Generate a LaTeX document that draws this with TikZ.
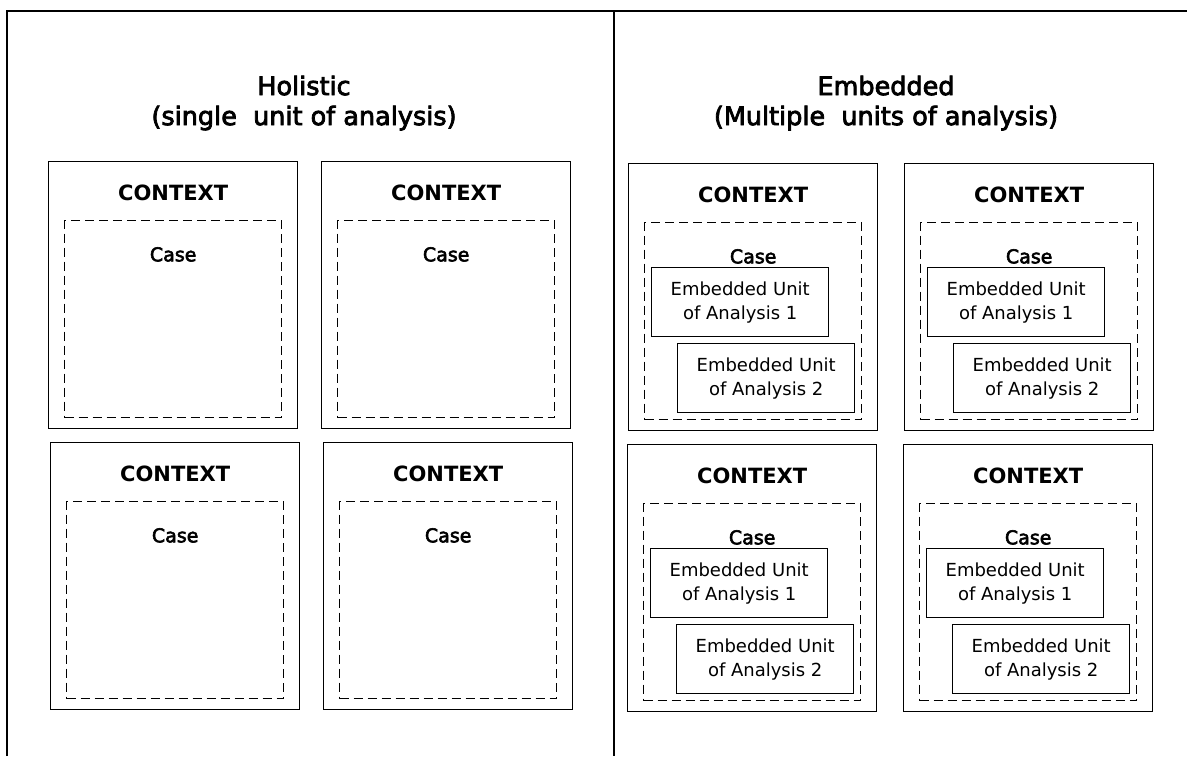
\documentclass[tikz,border=0pt]{standalone}
\usepackage{fontspec}
\setmainfont{DejaVu Sans}
\newfontfamily\heavyfont{DejaVu Sans}[FakeBold=3]
\usetikzlibrary{positioning}
\begin{document}
\begin{tikzpicture}[x=1pt,y=-1pt,
	ctxbox/.style={draw,line width=1.4pt,minimum width=249pt,minimum height=267pt,anchor=north west,inner sep=0pt},
	casebox/.style={draw,line width=1.4pt,dash pattern=on 9pt off 5pt,minimum width=217pt,minimum height=197pt,inner sep=0pt},
	unitbox/.style={draw,line width=1.3pt,minimum width=177pt,minimum height=69pt,align=center,inner sep=0pt,font=\fontsize{18}{24}\selectfont},
	ctxlabel/.style={font=\bfseries\fontsize{21}{25}\selectfont,inner sep=0pt},
	caselabel/.style={font=\heavyfont\fontsize{19}{23}\selectfont,inner sep=0pt},
	title/.style={align=center,anchor=north,inner sep=0pt,font=\heavyfont\fontsize{25.5}{30}\selectfont},]
\useasboundingbox (0,0) rectangle (1187,756);
% frame
\draw[line width=1.4pt] (7,756) -- (7,11) -- (1187,11);
\draw[line width=1.4pt] (614,11) -- (614,756);
\node[title] (holistic) at (304,75.5) {Holistic\\(single\ \ unit of analysis)};
\node[title] (embedded) at (886,75.5) {Embedded\\(Multiple\ \ units of analysis)};
% holistic cases
\foreach \x/\y/\n in {48/161/a,321/161/b,50/442/c,323/442/d} {
	\node[ctxbox] (ctx\n) at (\x,\y) {};
	\node[ctxlabel,below=24pt of ctx\n.north] (ctxlab\n) {CONTEXT};
	\node[casebox,below=59pt of ctx\n.north] (case\n) {};
	\node[caselabel,below=86pt of ctx\n.north] (caselab\n) {Case};
}
% embedded cases
\foreach \x/\y/\n in {628/163/e,904/163/f,627/444/g,903/444/h} {
	\node[ctxbox] (ctx\n) at (\x,\y) {};
	\node[ctxlabel,below=24pt of ctx\n.north] (ctxlab\n) {CONTEXT};
	\node[casebox,below=59pt of ctx\n.north] (case\n) {};
	\node[caselabel,below=86pt of ctx\n.north] (caselab\n) {Case};
	\node[unitbox,below=104pt of ctx\n.north,xshift=-13pt] (unitA\n) {Embedded Unit\\of Analysis 1};
	\node[unitbox,below=180pt of ctx\n.north,xshift=13pt] (unitB\n) {Embedded Unit\\of Analysis 2};
}
\end{tikzpicture}
\end{document}
